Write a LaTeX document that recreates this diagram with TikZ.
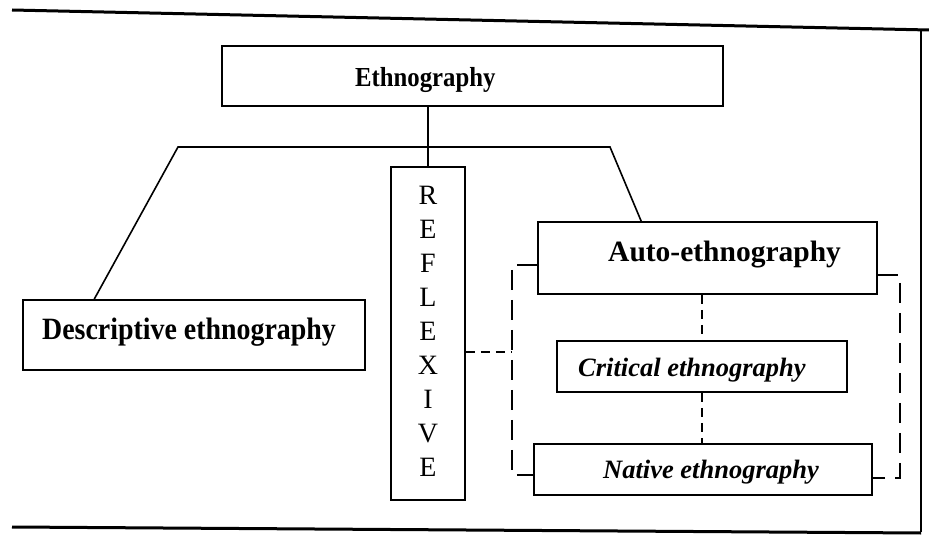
\documentclass[tikz,border=0pt]{standalone}
\usepackage{fontspec}
\setmainfont{Liberation Serif}
\newfontfamily\condserif[FakeStretch=0.9]{Liberation Serif}
\begin{document}
\begin{tikzpicture}[x=1pt,y=-1pt,
  box/.style={draw, line width=1.6pt, inner sep=0pt},
  lbl/.style={inner sep=0pt, anchor=base west},
  dsh/.style={line width=1.4pt, dash pattern=on 20pt off 10pt},
  dshs/.style={line width=1.4pt, dash pattern=on 9pt off 6pt},
  conn/.style={line width=1.6pt}]
\useasboundingbox (0,0) rectangle (929,545);
% frame
\draw[line width=3pt] (12,10) -- (929,30);
\draw[line width=2.2pt] (921,29) -- (921,532);
\draw[line width=3pt] (12,527) -- (921,533);
% boxes
\node[box, minimum width=501pt, minimum height=60pt] (ethno) at (472.5,76) {};
\node[box, minimum width=74pt, minimum height=333pt] (refl) at (428,333.5) {};
\node[box, minimum width=342pt, minimum height=70pt] (desc) at (194,335) {};
\node[box, minimum width=339pt, minimum height=72pt] (auto) at (707.5,258) {};
\node[box, minimum width=290pt, minimum height=51pt] (crit) at (702,366.5) {};
\node[box, minimum width=338pt, minimum height=51pt] (nat) at (703,469.5) {};
% texts
\node[lbl, font=\condserif\fontsize{27.5}{32}\selectfont\bfseries] (ethnoT) at (355,87) {Ethnography};
\node[lbl, font=\condserif\fontsize{31}{36}\selectfont\bfseries] (descT) at (42,339) {Descriptive ethnography};
\node[lbl, font=\fontsize{29.5}{34}\selectfont\bfseries] (autoT) at (608,262) {Auto-ethnography};
\node[lbl, font=\fontsize{26.5}{32}\selectfont\bfseries\itshape] (critT) at (578,376) {Critical ethnography};
\node[lbl, font=\fontsize{26.5}{32}\selectfont\bfseries\itshape] (natT) at (603,478) {Native ethnography};
\node[inner sep=0pt, align=center, font=\fontsize{28}{34}\selectfont] (reflT) at (428,331) {R\\E\\F\\L\\E\\X\\I\\V\\E};
% solid connectors
\coordinate (busL) at (178,147);
\coordinate (busR) at (610,147);
\draw[conn] ([xshift=72pt]desc.north west) -- (busL) -- (busR) -- ([xshift=104pt]auto.north west);
\draw[conn] (ethno.south -| refl.north) -- (refl.north);
% dashed brackets
\coordinate (lbT) at (512,265);
\coordinate (lbM) at (512,352);
\coordinate (lbB) at (512,475);
\coordinate (rbT) at (900,275);
\coordinate (rbB) at (900,478);
\draw[dsh] (auto.west |- lbT) -- (lbT) -- (lbB) -- (nat.west |- lbB);
\draw[dshs] (refl.east |- lbM) -- (lbM);
\draw[dsh] (auto.east |- rbT) -- (rbT) -- (rbB) -- (nat.east |- rbB);
\draw[dshs] (auto.south -| crit.north) -- (crit.north);
\draw[dshs] (crit.south) -- (nat.north -| crit.south);
\end{tikzpicture}
\end{document}
